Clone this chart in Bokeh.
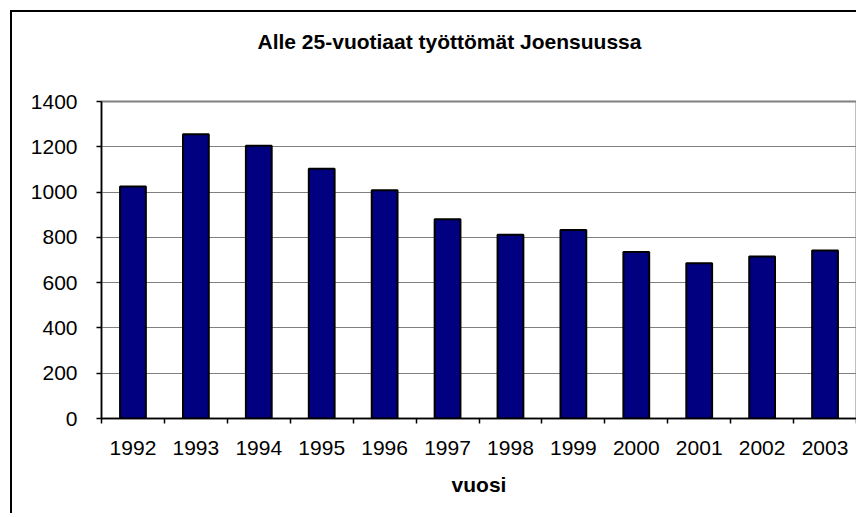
from bokeh.plotting import figure
from bokeh.models import FixedTicker, Range1d, Title, ColumnDataSource
from bokeh.embed import file_html
from bokeh.resources import INLINE

# ---- data ----
years = ["1992", "1993", "1994", "1995", "1996", "1997",
         "1998", "1999", "2000", "2001", "2002", "2003"]
counts = [1025, 1255, 1205, 1103, 1008, 880, 812, 833, 735, 686, 715, 742]
y_ticks = [0, 200, 400, 600, 800, 1000, 1200, 1400]
chart_title = "Alle 25-vuotiaat työttömät Joensuussa"
x_title = "vuosi"

FONT = "Liberation Sans"

centers = [i + 0.5 for i in range(len(years))]
bounds = list(range(len(years) + 1))

src = ColumnDataSource(dict(x=centers, top=counts, year=years))

p = figure(width=846, height=503, output_backend="svg", toolbar_location=None,
           x_range=Range1d(0, len(years)), y_range=Range1d(y_ticks[0], y_ticks[-1]),
           min_border_left=89, min_border_right=2, min_border_top=89,
           min_border_bottom=97)
p.styles = {"border-left": "2px solid black", "border-top": "2px solid black",
            "margin-left": "10px", "margin-top": "10px"}
p.background_fill_color = "white"
p.border_fill_color = "white"
p.outline_line_color = "#808080"
p.outline_line_width = 2

p.vbar(x="x", top="top", width=0.41, source=src,
       fill_color="#000080", line_color="black", line_width=2)

# grid
p.xgrid.visible = False
p.ygrid.ticker = FixedTicker(ticks=y_ticks)
p.ygrid.grid_line_color = "#808080"
p.ygrid.grid_line_width = 1

# y axis
p.yaxis.ticker = FixedTicker(ticks=y_ticks, minor_ticks=[])
p.yaxis.axis_line_color = "black"
p.yaxis.axis_line_width = 1.5
p.yaxis.major_tick_out = 5
p.yaxis.major_tick_in = 0
p.yaxis.major_tick_line_width = 1.5
p.yaxis.major_tick_line_color = "black"
p.yaxis.minor_tick_line_color = None
p.yaxis.major_label_standoff = 19
p.yaxis.major_label_text_font = FONT
p.yaxis.major_label_text_font_size = "21px"
p.yaxis.major_label_text_color = "black"

# x axis: labels at centres, ticks at category boundaries
p.xaxis.ticker = FixedTicker(ticks=centers, minor_ticks=bounds)
p.xaxis.major_label_overrides = {c: y for c, y in zip(centers, years)}
p.xaxis.axis_line_color = "black"
p.xaxis.axis_line_width = 1.5
p.xaxis.major_tick_line_color = None
p.xaxis.minor_tick_line_color = "black"
p.xaxis.minor_tick_line_width = 1.5
p.xaxis.minor_tick_out = 5
p.xaxis.minor_tick_in = 0
p.xaxis.major_tick_out = 5
p.xaxis.major_label_standoff = 17
p.xaxis.major_label_text_font = FONT
p.xaxis.major_label_text_font_size = "21px"
p.xaxis.major_label_text_color = "black"
p.xaxis.axis_label = x_title
p.xaxis.axis_label_text_font = FONT
p.xaxis.axis_label_text_font_size = "21px"
p.xaxis.axis_label_text_font_style = "bold"
p.xaxis.axis_label_text_color = "black"
p.xaxis.axis_label_standoff = 15

# spacer between frame and the chart title
p.add_layout(Title(text=" ", text_font_size="1px", standoff=46), "above")
# chart title, centred on the whole chart area (left-aligned with offset)
p.add_layout(Title(text=chart_title, align="left", offset=156, standoff=0,
                   vertical_align="bottom", text_font=FONT, text_font_size="21px",
                   text_font_style="bold", text_color="black"), "above")

open("out.html", "w").write(file_html(p, INLINE))
